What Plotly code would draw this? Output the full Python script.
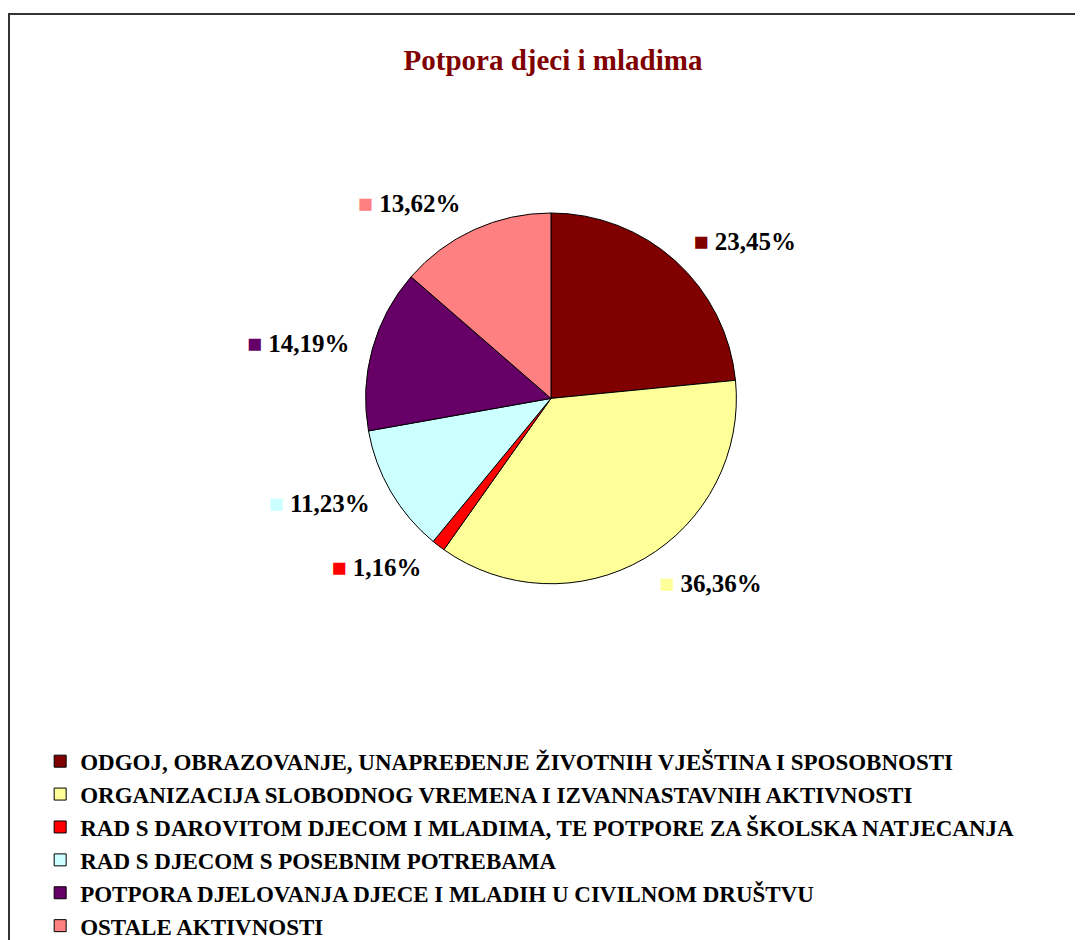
import plotly.graph_objects as go

categories = [
    "ODGOJ, OBRAZOVANJE, UNAPREĐENJE ŽIVOTNIH VJEŠTINA I SPOSOBNOSTI",
    "ORGANIZACIJA SLOBODNOG VREMENA I IZVANNASTAVNIH AKTIVNOSTI",
    "RAD S DAROVITOM DJECOM I MLADIMA, TE POTPORE ZA ŠKOLSKA NATJECANJA",
    "RAD S DJECOM S POSEBNIM POTREBAMA",
    "POTPORA DJELOVANJA DJECE I MLADIH U CIVILNOM DRUŠTVU",
    "OSTALE AKTIVNOSTI",
]
values = [23.45, 36.36, 1.16, 11.23, 14.19, 13.62]
colors = ["#800000", "#FFFF99", "#FF0000", "#CCFFFF", "#660066", "#FF8080"]
title_text = "Potpora djeci i mladima"

W, H = 1083, 940
cx, cy, r = 543, 398, 189
r_lab = 206

labels_txt = [
    f'<span style="color:{c}">■</span> ' + f"{v:.2f}".replace(".", ",") + "%"
    for v, c in zip(values, colors)
]

def dom(rad):
    return dict(x=[(cx - rad) / W, (cx + rad) / W], y=[1 - (cy + rad) / H, 1 - (cy - rad) / H])

fig = go.Figure()
fig.add_trace(go.Pie(
    labels=categories,
    values=values,
    sort=False,
    direction="clockwise",
    rotation=0,
    marker=dict(colors=colors, line=dict(color="#000000", width=1)),
    textinfo="none",
    domain=dom(r),
    hoverinfo="label+percent",
))
# transparent companion pie that carries the outside data labels
fig.add_trace(go.Pie(
    labels=categories,
    values=values,
    sort=False,
    direction="clockwise",
    rotation=0,
    marker=dict(colors=["rgba(0,0,0,0)"] * len(values), line=dict(width=0)),
    text=labels_txt,
    textinfo="text",
    textposition="outside",
    textfont=dict(family="Liberation Serif", size=25, color="#000000", weight="bold"),
    domain=dom(r_lab),
    showlegend=False,
    hoverinfo="skip",
))

fig.update_layout(
    width=W, height=H,
    margin=dict(l=0, r=0, t=0, b=0),
    paper_bgcolor="white",
    title=dict(text=title_text, x=545 / W, xanchor="center", y=1 - 52 / H, yanchor="middle",
               font=dict(family="Liberation Serif", size=29, color="#800000", weight="bold")),
    showlegend=True,
    legend=dict(x=0.0297, xanchor="left", y=1 - 746 / H, yanchor="top",
                font=dict(family="Liberation Serif", size=23, color="#000000", weight="bold"),
                bgcolor="rgba(0,0,0,0)"),
    shapes=[dict(type="rect", xref="paper", yref="paper",
                 x0=1 / W, x1=1.05, y0=-0.05, y1=1 - 6 / H,
                 line=dict(color="#333333", width=2), fillcolor="rgba(0,0,0,0)")],
)

fig.write_html("out.html")
